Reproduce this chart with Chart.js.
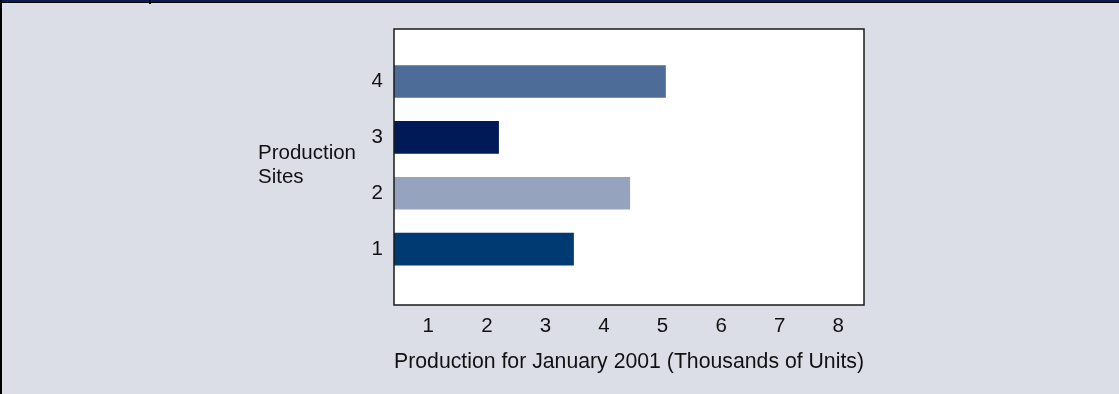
<!DOCTYPE html>
<html>
<head>
<meta charset="utf-8">
<script src="https://cdn.jsdelivr.net/npm/chart.js@4"></script>
<style>
  html, body { margin: 0; padding: 0; background: #dbdee7; }
  #wrap { width: 1119px; height: 394px; }
</style>
</head>
<body>
<div id="wrap"><canvas id="barChart" width="1119" height="394"></canvas></div>
<script>
// production per site, thousands of units
var sites = [1, 2, 3, 4];
var production = [3.48, 4.44, 2.2, 5.05];
var xTickValues = [1, 2, 3, 4, 5, 6, 7, 8];

var siteColors = ['#003a72', '#95a3bf', '#001a57', '#4d6c97'];
var FONT = '"Liberation Sans", Arial, Helvetica, sans-serif';
var FONT_SIZE = 20.5;

// page frame, plot box and the unrotated y title
var framePlugin = {
    id: 'frame',
    beforeDraw: function (chart) {
        var c = chart.ctx;
        c.save();
        c.fillStyle = '#dbdee7';
        c.fillRect(0, 0, chart.width, chart.height);
        c.fillStyle = '#0b1a52';
        c.fillRect(0, 0, chart.width, 2);
        c.fillStyle = '#000';
        c.fillRect(0, 2, chart.width, 1);
        c.fillRect(0, 0, 2, chart.height);
        c.fillRect(149, 0, 2, 4);
        var a = chart.chartArea;
        c.fillStyle = '#fff';
        c.fillRect(a.left, a.top, a.right - a.left, a.bottom - a.top);
        c.restore();
    },
    afterDraw: function (chart) {
        var c = chart.ctx;
        var a = chart.chartArea;
        c.save();
        c.strokeStyle = '#1a1a1a';
        c.lineWidth = 1.5;
        c.strokeRect(a.left, a.top, a.right - a.left, a.bottom - a.top);
        c.fillStyle = '#111';
        c.font = FONT_SIZE + 'px ' + FONT;
        c.textAlign = 'left';
        c.textBaseline = 'alphabetic';
        c.fillText('Production', 258, 159);
        c.fillText('Sites', 258, 183);
        c.restore();
    }
};

var ctx = document.getElementById('barChart').getContext('2d');
var myChart = new Chart(ctx, {
    type: 'bar',
    data: {
        datasets: [{
            label: 'Production',
            data: sites.map(function (s, i) { return { x: production[i], y: s }; }),
            backgroundColor: siteColors,
            borderWidth: 0,
            barThickness: 32,
            clip: 0
        }]
    },
    options: {
        indexAxis: 'y',
        responsive: false,
        animation: false,
        layout: { padding: { left: 364, right: 255, top: 29, bottom: 0 } },
        plugins: {
            legend: { display: false },
            tooltip: { enabled: false }
        },
        scales: {
            x: {
                type: 'linear',
                min: 0.414,
                max: 8.44,
                grid: { display: false, drawTicks: false },
                border: { display: false },
                afterBuildTicks: function (s) {
                    s.ticks = xTickValues.map(function (v) { return { value: v }; });
                },
                afterFit: function (s) { s.height = 89; },
                ticks: {
                    color: '#111',
                    padding: 9,
                    font: { family: FONT, size: FONT_SIZE }
                },
                title: {
                    display: true,
                    text: 'Production for January 2001 (Thousands of Units)',
                    color: '#111',
                    padding: { top: 4, bottom: 19 },
                    font: { family: FONT, size: 21.3 }
                }
            },
            y: {
                type: 'linear',
                offset: false,
                min: 0,
                max: 4.94,
                grid: { display: false, drawTicks: false },
                border: { display: false },
                afterBuildTicks: function (s) {
                    s.ticks = sites.map(function (v) { return { value: v }; });
                },
                afterFit: function (s) { s.width = 30; },
                ticks: {
                    color: '#111',
                    padding: 11,
                    font: { family: FONT, size: FONT_SIZE }
                }
            }
        }
    },
    plugins: [framePlugin]
});
</script>
</body>
</html>
